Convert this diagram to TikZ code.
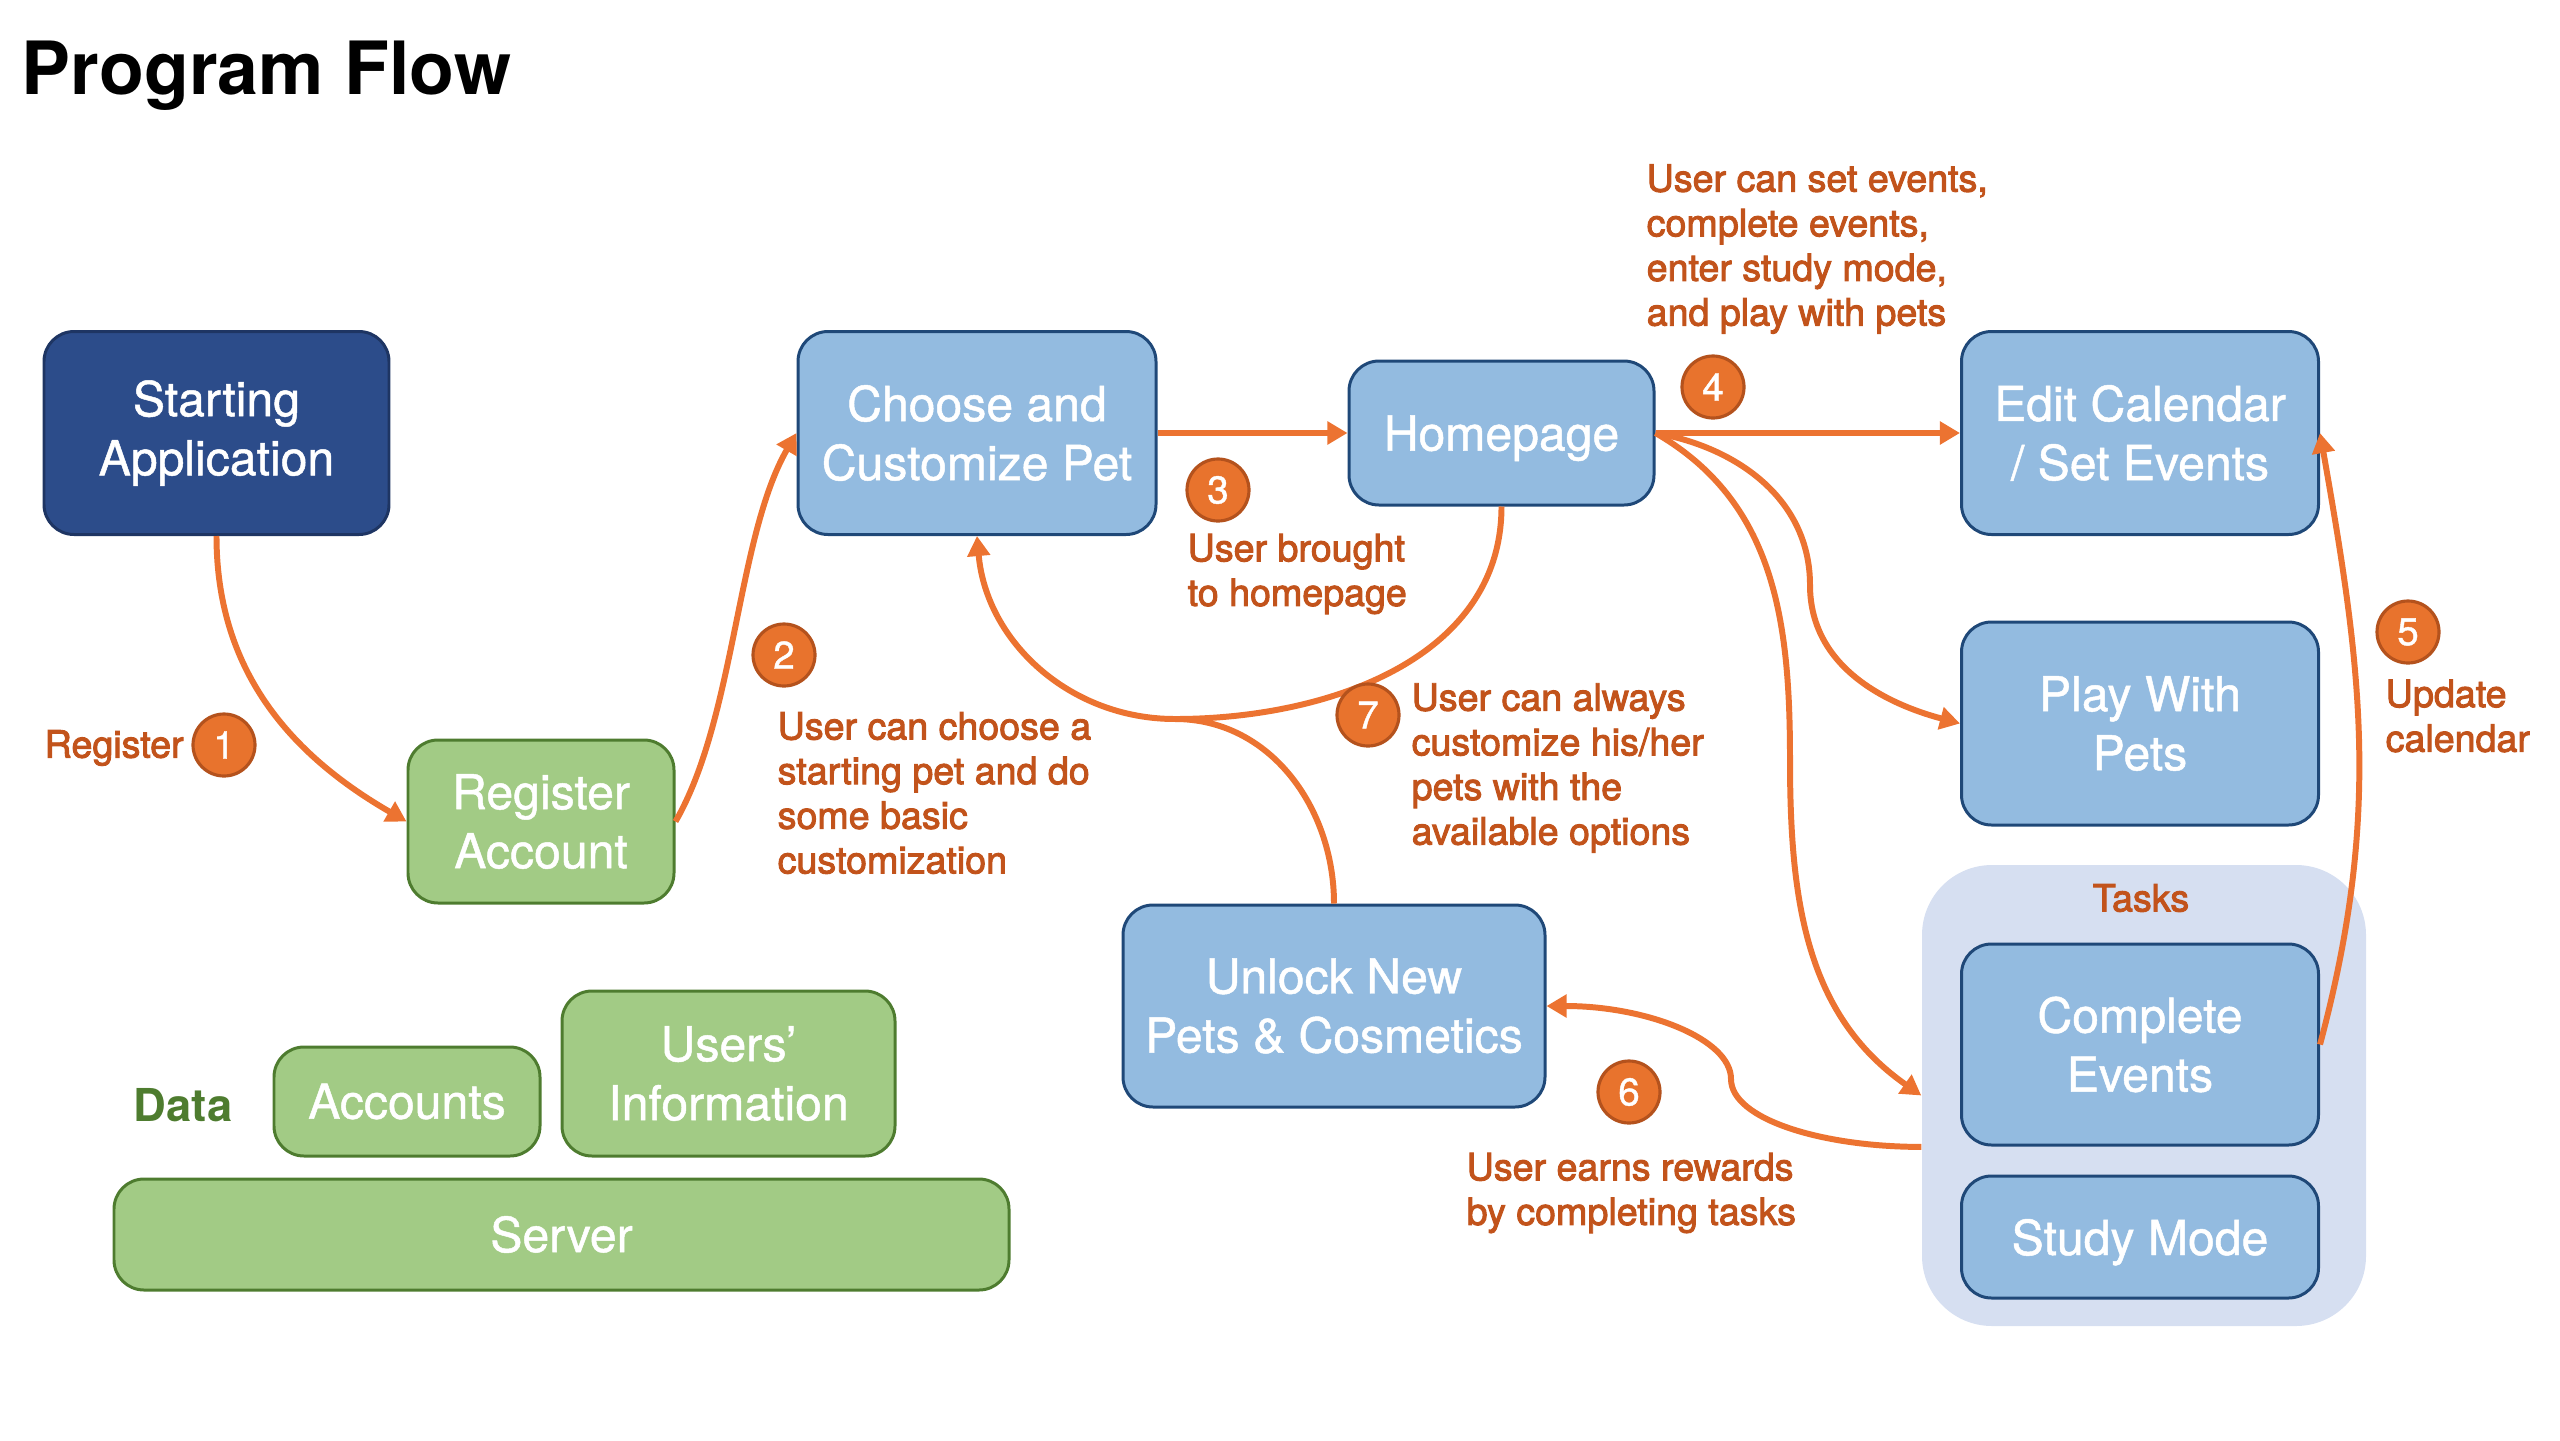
\documentclass[tikz,border=0pt]{standalone}
\usepackage{fontspec}
\setmainfont{TeX Gyre Heros}
\newfontfamily\notefont[FakeBold=2.5]{TeX Gyre Heros}
\newfontfamily\boxfont[FakeBold=1.0]{TeX Gyre Heros}
\usepackage{xcolor}
\usepackage{tikz}
\usetikzlibrary{arrows.meta,calc,positioning}
\definecolor{flownavy}{HTML}{2C4C8A}
\definecolor{flownavyline}{HTML}{1E3563}
\definecolor{flowblue}{HTML}{93BBE0}
\definecolor{flowblueline}{HTML}{1F4878}
\definecolor{flowgreen}{HTML}{A2CB85}
\definecolor{flowgreenline}{HTML}{4E7C2F}
\definecolor{flowtask}{HTML}{D6DFF1}
\definecolor{floworange}{HTML}{EC7331}
\definecolor{flowbadge}{HTML}{E8732D}
\definecolor{flowbadgeline}{HTML}{B4521D}
\definecolor{flowtext}{HTML}{C2531B}
\tikzset{
stagebox/.style={
	rounded corners=0.3cm,
	line width=0.85pt,
	align=center,
	inner sep=0pt,
	text=white,
	font=\boxfont\fontsize{13.7}{16.8}\selectfont
},
navybox/.style={stagebox, fill=flownavy, draw=flownavyline},
bluebox/.style={stagebox, fill=flowblue, draw=flowblueline},
greenbox/.style={stagebox, fill=flowgreen, draw=flowgreenline},
flowarrow/.style={-{Triangle[length=5.7pt,width=6.3pt]}, line width=1.7pt, draw=floworange},
flowline/.style={line width=1.7pt, draw=floworange},
badge/.style={circle, fill=flowbadge, draw=flowbadgeline, line width=0.9pt,
	minimum size=0.62cm, inner sep=0pt, text=white, font=\boxfont\fontsize{11}{13}\selectfont},
note/.style={font=\notefont\fontsize{10.7}{12.7}\selectfont, text=flowtext, align=left,
	inner sep=0pt, anchor=west}
}
\begin{document}
\begin{tikzpicture}[x=1cm,y=1cm]
\useasboundingbox (0,0) rectangle (25.6,-14.4);
\def\cR{21.40} % right column center x

% ── Title ──────────────────────────────────────────────────────
\node[font=\bfseries\fontsize{20.9}{25}\selectfont, anchor=base west, inner sep=0pt]
 (title) at (0.21,-0.94) {Program Flow};

% ── Main flow boxes ────────────────────────────────────────────
\node[navybox, minimum width=3.45cm, minimum height=2.03cm] (start) at (2.165,-4.33)
 {Starting\\Application};
\node[greenbox, minimum width=2.66cm, minimum height=1.63cm] (reg) at (5.41,-8.215)
 {Register\\Account};
\node[bluebox, minimum width=3.58cm, minimum height=2.03cm] (choose) at (9.77,-4.33)
 {Choose and\\Customize Pet};
\node[bluebox, minimum width=3.05cm, minimum height=1.44cm, text depth=0pt] (home)
 at (15.015,-4.33) {Homepage};
\node[bluebox, minimum width=3.57cm, minimum height=2.03cm] (edit) at (\cR,-4.33)
 {Edit Calendar\\/ Set Events};
\node[bluebox, minimum width=3.57cm, minimum height=2.03cm] (play) at (\cR,-7.235)
 {Play With\\Pets};
\node[bluebox, minimum width=4.22cm, minimum height=2.02cm] (unlock) at (13.34,-10.06)
 {Unlock New\\Pets \& Cosmetics};

% ── Tasks group ────────────────────────────────────────────────
\node[fill=flowtask, rounded corners=0.7cm, minimum width=4.44cm, minimum height=4.61cm,
 inner sep=0pt] (tasks) at (21.44,-10.955) {};
\node[note, anchor=center] (taskslabel) at (21.41,-8.98) {Tasks};
\node[bluebox, minimum width=3.57cm, minimum height=2.01cm] (complete) at (\cR,-10.445)
 {Complete\\Events};
\node[bluebox, minimum width=3.57cm, minimum height=1.22cm, text depth=0pt] (study)
 at (\cR,-12.37) {Study Mode};

% ── Data layer ─────────────────────────────────────────────────
\node[font=\bfseries\fontsize{12.9}{15}\selectfont, text=flowgreenline, inner sep=0pt]
 (datalabel) at (1.83,-11.05) {Data};
\node[greenbox, minimum width=2.66cm, minimum height=1.09cm] (accounts) at (4.07,-11.015)
 {Accounts};
\node[greenbox, minimum width=3.33cm, minimum height=1.65cm] (usersinfo) at (7.285,-10.735)
 {Users’\\Information};
\node[greenbox, minimum width=8.95cm, minimum height=1.11cm] (server) at (5.615,-12.345)
 {Server};

% ── Connectors ─────────────────────────────────────────────────
\coordinate (merge7) at (11.75,-7.19);
\coordinate (bend6) at (17.31,-10.79);
\coordinate (bendplay) at (18.10,-5.85);
\coordinate (bendtask) at (17.90,-7.60);
\draw[flowarrow] (start.south) to[out=-90,in=150] (reg.west);
\draw[flowarrow] (reg.east) to[out=60,in=-120,looseness=0.75] (choose.west);
\draw[flowarrow] (choose.east) -- (home.west);
\draw[flowarrow] (home.east) -- (edit.west);
\draw[flowarrow] (home.east) to[out=-10,in=90] (bendplay) to[out=-90,in=165] (play.west);
\draw[flowarrow] (home.east) to[out=-30,in=90] (bendtask) to[out=-90,in=145] (tasks.west);
\draw[flowarrow] (complete.east) to[out=75,in=-80] (edit.east);
\draw[flowarrow] (tasks.193) to[out=180,in=-90,out distance=1.0cm,in distance=0.4cm] (bend6)
 to[out=90,in=0,out distance=0.4cm,in distance=1.0cm] (unlock.east);
\draw[flowarrow] (home.south) to[out=-90,in=0] (merge7) to[out=180,in=-85] (choose.south);
\draw[flowline] (unlock.north) to[out=90,in=0] (merge7);

% ── Step badges ────────────────────────────────────────────────
\node[badge] (b1) at (2.24,-7.45) {1};
\node[badge] (b2) at (7.84,-6.55) {2};
\node[badge] (b3) at (12.18,-4.90) {3};
\node[badge] (b4) at (17.13,-3.87) {4};
\node[badge] (b5) at (24.08,-6.32) {5};
\node[badge] (b6) at (16.29,-10.92) {6};
\node[badge] (b7) at (13.68,-7.15) {7};

% ── Step notes ─────────────────────────────────────────────────
\node[note] (n1) at (0.44,-7.48) {Register};
\node[note] (n2) at (7.77,-7.93)
 {User can choose a\\starting pet and do\\some basic\\customization};
\node[note] (n3) at (11.87,-5.74) {User brought\\to homepage};
\node[note] (n4) at (16.46,-2.49)
 {User can set events,\\complete events,\\enter study mode,\\and play with pets};
\node[note] (n5) at (23.85,-7.16) {Update\\calendar};
\node[note] (n6) at (14.66,-11.93) {User earns rewards\\by completing tasks};
\node[note] (n7) at (14.11,-7.68)
 {User can always\\customize his/her\\pets with the\\available options};
\end{tikzpicture}
\end{document}
